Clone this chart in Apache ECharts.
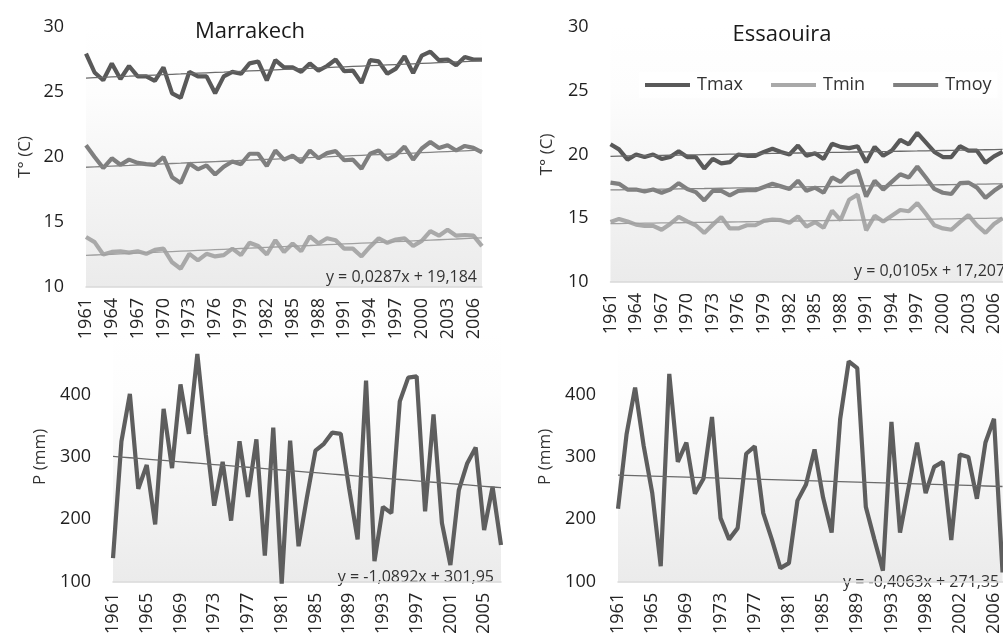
<!DOCTYPE html>
<html><head><meta charset="utf-8">
<script src="https://cdn.jsdelivr.net/npm/echarts@6/dist/echarts.min.js"></script>
<style>html,body{margin:0;padding:0;overflow:hidden;background:#fff}#c{width:1003px;height:637px}</style>
</head><body><div id="c"></div>
<script>
// ---- categories ----
const years = ['1961','1962','1963','1964','1965','1966','1967','1968','1969','1970',
 '1971','1972','1973','1974','1975','1976','1977','1978','1979','1980',
 '1981','1982','1983','1984','1985','1986','1987','1988','1989','1990',
 '1991','1992','1993','1994','1995','1996','1997','1998','1999','2000',
 '2001','2002','2003','2004','2005','2006','2007'];
const yearsEssP = ['1961','1962','1963','1964','1965','1966','1967','1968','1969','1970',
 '1971','1972','1973','1974','1975','1976','1977','1978','1979','1980',
 '1981','1982','1983','1984','1985','1986','1987','1988','1989','1990',
 '1991','1992','1993','1995','1996','1997','1998','1999','2000',
 '2001','2002','2003','2004','2005','2006','2007'];

// ---- Marrakech temperatures (°C) ----
const marTmax = [27.95,26.5,25.9,27.2,26.0,27.0,26.2,26.2,25.85,26.9,
 24.9,24.55,26.55,26.2,26.2,24.9,26.2,26.55,26.4,27.2,
 27.35,25.9,27.45,26.9,26.9,26.55,27.2,26.65,27.0,27.5,
 26.6,26.65,25.7,27.45,27.35,26.4,26.8,27.75,26.45,27.8,
 28.1,27.45,27.5,27.05,27.7,27.5,27.5];
const marTmoy = [20.9,20.0,19.15,19.9,19.4,19.8,19.55,19.45,19.4,20.0,
 18.45,18.0,19.5,19.05,19.35,18.65,19.25,19.65,19.45,20.25,
 20.25,19.3,20.5,19.8,20.1,19.6,20.5,19.9,20.3,20.45,
 19.75,19.8,19.1,20.25,20.5,19.8,20.15,20.8,19.8,20.65,
 21.15,20.7,20.9,20.5,20.85,20.7,20.35];
const marTmin = [13.85,13.45,12.5,12.7,12.75,12.65,12.75,12.55,12.85,12.95,
 11.9,11.4,12.55,12.05,12.55,12.35,12.45,12.95,12.45,13.4,
 13.15,12.5,13.6,12.7,13.35,12.75,13.9,13.35,13.75,13.6,
 12.95,12.95,12.35,13.1,13.75,13.4,13.65,13.75,13.15,13.55,
 14.3,13.95,14.4,13.95,14.0,13.95,13.15];

// ---- Essaouira temperatures (°C) ----
const essTmax = [20.8,20.4,19.6,20.0,19.8,20.0,19.65,19.8,20.25,19.8,
 19.8,18.9,19.65,19.3,19.4,20.0,19.9,19.9,20.2,20.45,
 20.2,20.0,20.7,19.9,20.1,19.65,20.85,20.6,20.5,20.65,
 19.4,20.6,19.9,20.3,21.15,20.8,21.7,20.95,20.2,19.8,
 19.8,20.65,20.3,20.3,19.35,19.85,20.2];
const essTmoy = [17.8,17.7,17.25,17.25,17.1,17.25,17.0,17.25,17.75,17.3,
 17.05,16.4,17.15,17.15,16.8,17.15,17.2,17.2,17.45,17.7,
 17.5,17.3,17.95,17.15,17.4,17.0,18.2,17.85,18.5,18.75,
 16.7,17.95,17.25,17.85,18.45,18.2,19.05,18.2,17.3,17.0,
 16.9,17.75,17.8,17.4,16.6,17.15,17.6];
const essTmin = [14.7,14.95,14.75,14.5,14.4,14.4,14.1,14.55,15.1,14.75,
 14.45,13.85,14.5,15.1,14.2,14.2,14.45,14.45,14.8,14.9,
 14.85,14.65,15.15,14.35,14.7,14.25,15.6,14.85,16.45,16.85,
 14.05,15.2,14.75,15.2,15.65,15.55,16.2,15.35,14.45,14.2,
 14.1,14.7,15.25,14.45,13.85,14.55,15.0];

// ---- Precipitation (mm) ----
const marP = [138,325,401,249,287,192,377,282,416,337,
 465,336,222,292,198,325,236,328,142,347,
 97,326,157,236,310,321,339,337,249,168,
 422,133,220,210,389,427,429,213,368,194,
 127,247,290,315,183,252,159];
const essP = [217,336,411,318,243,125,433,292,323,241,
 265,364,202,168,186,305,317,210,168,122,
 130,230,256,312,235,179,361,453,442,220,
 168,118,356,179,251,323,242,284,292,167,
 304,300,233,323,361,115];

// ---- trend equations shown on the chart (slope, intercept) ----
const eqMarTmoy = [0.0287, 19.184];
const eqEssTmoy = [0.0105, 17.207];
const eqMarP = [-1.0892, 301.95];
const eqEssP = [-0.4063, 271.35];
const eqLabels = ['y = 0,0287x + 19,184','y = 0,0105x + 17,207','y = -1,0892x + 301,95','y = -0,4063x + 271,35'];
const titles = ['Marrakech','Essaouira'];

function trendEq(eq, n){ const r=[]; for(let i=0;i<n;i++) r.push(+(eq[0]*(i+1)+eq[1]).toFixed(3)); return r; }
function trendFit(arr){
  const n=arr.length; let sx=0,sy=0,sxx=0,sxy=0;
  arr.forEach((v,i)=>{const x=i+1; sx+=x; sy+=v; sxx+=x*x; sxy+=x*v;});
  const a=(n*sxy-sx*sy)/(n*sxx-sx*sx), b=(sy-a*sx)/n;
  return trendEq([a,b], n);
}

const C_MAX='#595959', C_MOY='#7f7f7f', C_MIN='#a9a9a9', C_P='#5e5e5e';
const FONT='"Open Sans", "DejaVu Sans", sans-serif';
const TXT='#333333';
const bg = {type:'linear',x:0,y:0,x2:0,y2:1,colorStops:[{offset:0,color:'#ffffff'},{offset:0.25,color:'#fdfdfd'},{offset:1,color:'#ebebeb'}]};

function xAx(gi, data, interval){
  return {type:'category', gridIndex:gi, data:data, boundaryGap:false,
    axisLine:{lineStyle:{color:'#d9d9d9',width:1.5}}, axisTick:{show:false},
    axisLabel:{rotate:90, interval:interval, fontSize:18, color:'#262626', margin:11, fontFamily:FONT},
    splitLine:{show:false}};
}
function yAx(gi, name, min, max, interval, gap){
  return {type:'value', gridIndex:gi, min:min, max:max, interval:interval,
    name:name, nameLocation:'middle', nameGap:gap,
    nameTextStyle:{fontSize:17, color:TXT, fontFamily:FONT},
    axisLine:{show:false}, axisTick:{show:false}, splitLine:{show:false},
    axisLabel:{fontSize:18, color:'#1f1f1f', margin:22, fontFamily:FONT, showMaxLabel: max===500 ? false : true}};
}
function line(name, xi, data, color, w, z){
  return {name:name, type:'line', xAxisIndex:xi, yAxisIndex:xi, data:data, symbol:'none',
    lineStyle:{color:color, width:w}, itemStyle:{color:color}, z:z||2, silent: w<2,
    emphasis:{disabled:true}, animation:false};
}

const chart = echarts.init(document.getElementById('c'));
chart.setOption({
  animation:false,
  grid:[
    {left:86, top:27, width:396, height:260, show:true, borderWidth:0, backgroundColor:bg},
    {left:610.5, top:27, width:399, height:255, show:true, borderWidth:0, backgroundColor:bg},
    {left:113, top:332, width:388, height:255, show:true, borderWidth:0, backgroundColor:bg},
    {left:618, top:332, width:387, height:259, show:true, borderWidth:0, backgroundColor:bg}
  ],
  xAxis:[ xAx(0, years, 2), xAx(1, years, 2), xAx(2, years, 3), xAx(3, yearsEssP, 3) ],
  yAxis:[ yAx(0,'T° (C)',10,30,5,52), yAx(1,'T° (C)',10,30,5,55), yAx(2,'P (mm)',100,500,100,64), yAx(3,'P (mm)',100,500,100,64) ],
  legend:{data:['Tmax','Tmin','Tmoy'], left:639, top:72, icon:'rect', itemWidth:45, itemHeight:4, itemGap:28,
    textStyle:{fontSize:18, color:TXT, fontFamily:FONT, padding:[0,0,0,2]}, backgroundColor:'rgba(255,255,255,0.7)', padding:[4,6]},
  series:[
    line('Tmax',0,marTmax,C_MAX,4.2,3), line('Tmoy',0,marTmoy,C_MOY,4.2,3), line('Tmin',0,marTmin,C_MIN,4.2,3),
    line('tr',0,trendFit(marTmax),'#6a6a6a',1.3,4), line('tr',0,trendEq(eqMarTmoy,marTmoy.length),'#858585',1.3,4), line('tr',0,trendFit(marTmin),'#a0a0a0',1.3,4),
    line('Tmax',1,essTmax,C_MAX,4.2,3), line('Tmoy',1,essTmoy,C_MOY,4.2,3), line('Tmin',1,essTmin,C_MIN,4.2,3),
    line('tr',1,trendFit(essTmax),'#6a6a6a',1.3,4), line('tr',1,trendEq(eqEssTmoy,essTmoy.length),'#858585',1.3,4), line('tr',1,trendFit(essTmin),'#a0a0a0',1.3,4),
    line('P',2,marP,C_P,4.2,3), line('tr',2,trendEq(eqMarP,marP.length),'#6a6a6a',1.3,4),
    line('P',3,essP,C_P,4.2,3), line('tr',3,trendEq(eqEssP,essP.length),'#6a6a6a',1.3,4)
  ],
  graphic:[
    {type:'text', x:250, y:32, style:{text:titles[0], font:'22px '+FONT, fill:'#1a1a1a', textAlign:'center', textVerticalAlign:'middle'}},
    {type:'text', x:782, y:35, style:{text:titles[1], font:'22px '+FONT, fill:'#1a1a1a', textAlign:'center', textVerticalAlign:'middle'}},
    {type:'text', x:477, y:277, style:{text:eqLabels[0], font:'16px '+FONT, fill:TXT, textAlign:'right', textVerticalAlign:'middle'}},
    {type:'text', x:854, y:271, style:{text:eqLabels[1], font:'16px '+FONT, fill:TXT, textAlign:'left', textVerticalAlign:'middle'}},
    {type:'text', x:494, y:577, style:{text:eqLabels[2], font:'16px '+FONT, fill:TXT, textAlign:'right', textVerticalAlign:'middle'}},
    {type:'text', x:843, y:582, style:{text:eqLabels[3], font:'16px '+FONT, fill:TXT, textAlign:'left', textVerticalAlign:'middle'}}
  ]
});
</script></body></html>
